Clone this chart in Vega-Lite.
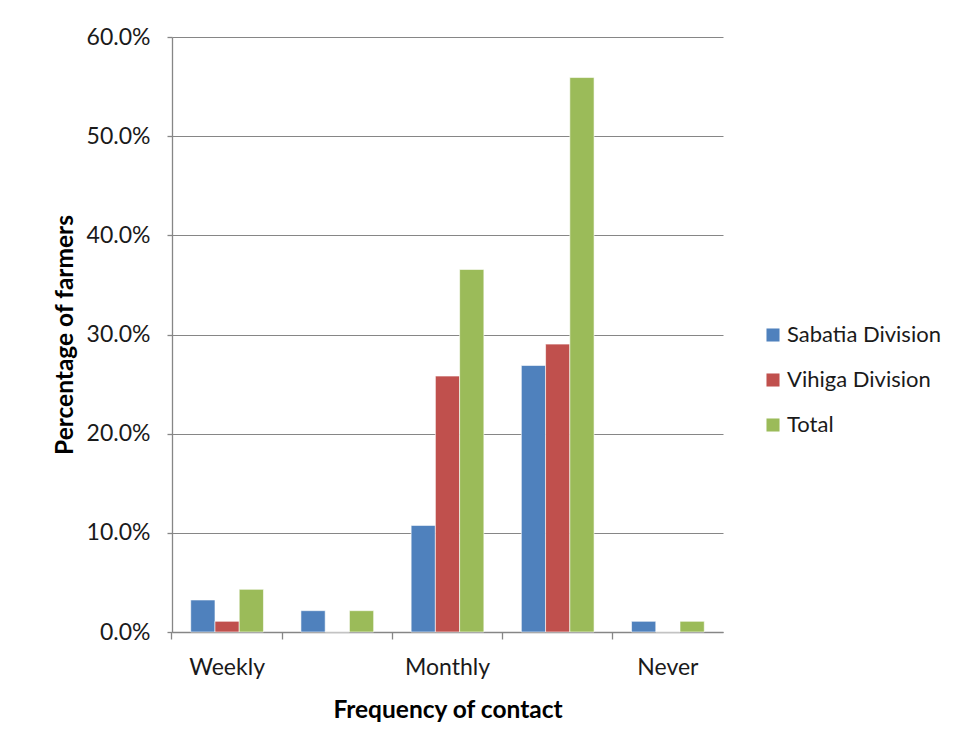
{
  "$schema": "https://vega.github.io/schema/vega-lite/v6.json",
  "autosize": {"type": "none"},
  "width": 551,
  "height": 595,
  "padding": {"left": 172, "top": 37, "right": 235, "bottom": 119},
  "background": "white",
  "data": {
    "values": [
      {"freq": "Weekly", "series": "Sabatia Division", "pct": 0.0323},
      {"freq": "Weekly", "series": "Vihiga Division", "pct": 0.0108},
      {"freq": "Weekly", "series": "Total", "pct": 0.0430},
      {"freq": "Fortnightly", "series": "Sabatia Division", "pct": 0.0215},
      {"freq": "Fortnightly", "series": "Vihiga Division", "pct": 0.0},
      {"freq": "Fortnightly", "series": "Total", "pct": 0.0215},
      {"freq": "Monthly", "series": "Sabatia Division", "pct": 0.1075},
      {"freq": "Monthly", "series": "Vihiga Division", "pct": 0.2581},
      {"freq": "Monthly", "series": "Total", "pct": 0.3656},
      {"freq": "Quarterly", "series": "Sabatia Division", "pct": 0.2688},
      {"freq": "Quarterly", "series": "Vihiga Division", "pct": 0.2903},
      {"freq": "Quarterly", "series": "Total", "pct": 0.5591},
      {"freq": "Never", "series": "Sabatia Division", "pct": 0.0108},
      {"freq": "Never", "series": "Vihiga Division", "pct": 0.0},
      {"freq": "Never", "series": "Total", "pct": 0.0108}
    ]
  },
  "mark": {"type": "bar", "stroke": "white", "strokeWidth": 0.6},
  "encoding": {
    "x": {
      "field": "freq",
      "type": "nominal",
      "sort": ["Weekly", "Fortnightly", "Monthly", "Quarterly", "Never"],
      "scale": {"paddingInner": 0.34, "paddingOuter": 0.17},
      "axis": {
        "title": "Frequency of contact",
        "labelAngle": 0,
        "labelExpr": "datum.value == 'Fortnightly' || datum.value == 'Quarterly' ? '' : datum.value",
        "bandPosition": -0.2576,
        "tickSize": 7,
        "labelPadding": 17,
        "titlePadding": 19
      }
    },
    "xOffset": {
      "field": "series",
      "type": "nominal",
      "sort": ["Sabatia Division", "Vihiga Division", "Total"]
    },
    "y": {
      "field": "pct",
      "type": "quantitative",
      "scale": {"domain": [0, 0.6], "nice": false},
      "axis": {
        "title": "Percentage of farmers",
        "format": ".1%",
        "values": [0, 0.1, 0.2, 0.3, 0.4, 0.5, 0.6],
        "tickSize": 5,
        "labelPadding": 17,
        "titlePadding": 9
      }
    },
    "color": {
      "field": "series",
      "type": "nominal",
      "sort": ["Sabatia Division", "Vihiga Division", "Total"],
      "scale": {
        "domain": ["Sabatia Division", "Vihiga Division", "Total"],
        "range": ["#4F81BD", "#C0504D", "#9BBB59"]
      },
      "legend": {
        "title": null,
        "orient": "none",
        "legendX": 590,
        "legendY": 287,
        "symbolType": "square",
        "symbolSize": 170,
        "symbolStrokeWidth": 0,
        "labelFontSize": 22,
        "labelFont": "Lato",
        "labelColor": "#1a1a1a",
        "rowPadding": 23,
        "labelOffset": 3
      }
    }
  },
  "config": {
    "view": {"stroke": null},
    "font": "Lato",
    "axis": {
      "labelFont": "Lato",
      "labelFontSize": 23,
      "labelColor": "#1a1a1a",
      "titleFont": "Lato",
      "titleFontSize": 24.5,
      "titleFontWeight": "bold",
      "titleColor": "#000000",
      "domainColor": "#868686",
      "tickColor": "#868686",
      "gridColor": "#868686",
      "domainWidth": 1.3,
      "tickWidth": 1.3,
      "gridWidth": 1
    },
    "axisX": {"grid": false},
    "axisY": {"grid": true}
  }
}
